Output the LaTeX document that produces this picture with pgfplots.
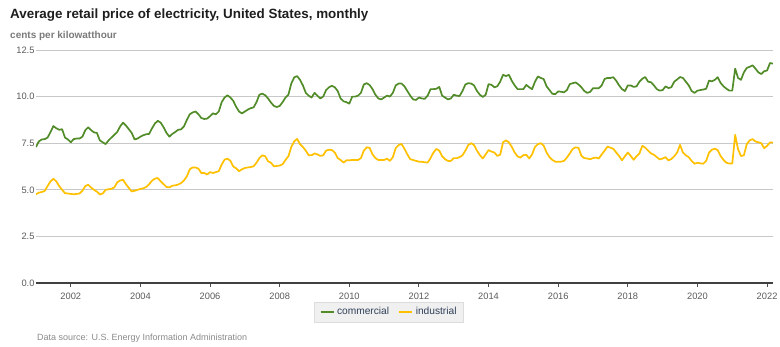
\documentclass[border=0pt]{standalone}
\usepackage{fontspec}
\setmainfont{Liberation Sans}
\usepackage{pgfplots}
\usepackage{pgfplotstable}
\pgfplotsset{compat=1.18}
\definecolor{comm}{HTML}{518C29}
\definecolor{ind}{HTML}{FFC000}
\definecolor{gridc}{HTML}{C8C8C8}
\definecolor{tickc}{HTML}{5A5A5A}
\definecolor{subc}{HTML}{7A7A7A}
\definecolor{srcc}{HTML}{8A8A8A}
\definecolor{legfill}{HTML}{F0F0F0}
\definecolor{legdraw}{HTML}{DCDCDC}
\definecolor{legtext}{HTML}{2F4058}
\definecolor{titlec}{HTML}{1E1E1E}

\pgfplotstableread{
y m c i
2001 1 7.30 4.76
2001 2 7.60 4.85
2001 3 7.70 4.88
2001 4 7.72 4.94
2001 5 7.80 5.20
2001 6 8.10 5.45
2001 7 8.42 5.59
2001 8 8.30 5.45
2001 9 8.22 5.20
2001 10 8.25 5.00
2001 11 7.80 4.82
2001 12 7.70 4.80
2002 1 7.55 4.78
2002 2 7.72 4.76
2002 3 7.75 4.78
2002 4 7.75 4.80
2002 5 7.85 4.95
2002 6 8.20 5.20
2002 7 8.35 5.27
2002 8 8.20 5.12
2002 9 8.08 5.00
2002 10 8.05 4.90
2002 11 7.65 4.75
2002 12 7.55 4.80
2003 1 7.45 5.00
2003 2 7.65 5.03
2003 3 7.80 5.05
2003 4 7.95 5.13
2003 5 8.10 5.40
2003 6 8.40 5.50
2003 7 8.60 5.54
2003 8 8.45 5.30
2003 9 8.25 5.10
2003 10 8.05 4.91
2003 11 7.70 4.95
2003 12 7.75 5.00
2004 1 7.85 5.05
2004 2 7.93 5.08
2004 3 7.98 5.15
2004 4 8.00 5.30
2004 5 8.30 5.49
2004 6 8.56 5.60
2004 7 8.70 5.63
2004 8 8.60 5.45
2004 9 8.35 5.30
2004 10 8.05 5.15
2004 11 7.85 5.13
2004 12 8.00 5.22
2005 1 8.10 5.24
2005 2 8.22 5.28
2005 3 8.24 5.36
2005 4 8.40 5.50
2005 5 8.75 5.72
2005 6 9.05 6.10
2005 7 9.15 6.20
2005 8 9.20 6.20
2005 9 9.05 6.13
2005 10 8.85 5.90
2005 11 8.80 5.90
2005 12 8.82 5.82
2006 1 8.95 5.95
2006 2 9.10 5.90
2006 3 9.05 5.95
2006 4 9.20 6.00
2006 5 9.70 6.35
2006 6 9.95 6.62
2006 7 10.07 6.67
2006 8 9.95 6.56
2006 9 9.77 6.25
2006 10 9.45 6.15
2006 11 9.20 6.00
2006 12 9.10 6.10
2007 1 9.20 6.17
2007 2 9.30 6.20
2007 3 9.38 6.22
2007 4 9.42 6.26
2007 5 9.70 6.45
2007 6 10.10 6.70
2007 7 10.16 6.85
2007 8 10.07 6.80
2007 9 9.90 6.53
2007 10 9.68 6.45
2007 11 9.50 6.26
2007 12 9.44 6.28
2008 1 9.50 6.30
2008 2 9.70 6.37
2008 3 9.95 6.60
2008 4 10.10 6.80
2008 5 10.70 7.30
2008 6 11.03 7.60
2008 7 11.10 7.73
2008 8 10.90 7.45
2008 9 10.60 7.30
2008 10 10.20 7.10
2008 11 10.05 6.85
2008 12 9.95 6.85
2009 1 10.20 6.95
2009 2 10.05 6.90
2009 3 9.90 6.82
2009 4 10.00 6.85
2009 5 10.35 7.10
2009 6 10.50 7.15
2009 7 10.58 7.13
2009 8 10.50 7.00
2009 9 10.30 6.70
2009 10 9.90 6.60
2009 11 9.75 6.46
2009 12 9.70 6.58
2010 1 9.62 6.58
2010 2 10.00 6.60
2010 3 10.00 6.60
2010 4 10.05 6.60
2010 5 10.20 6.70
2010 6 10.65 7.10
2010 7 10.72 7.28
2010 8 10.62 7.25
2010 9 10.40 6.90
2010 10 10.10 6.70
2010 11 9.90 6.60
2010 12 9.85 6.60
2011 1 9.95 6.60
2011 2 10.05 6.67
2011 3 10.00 6.55
2011 4 10.20 6.75
2011 5 10.60 7.24
2011 6 10.70 7.40
2011 7 10.70 7.46
2011 8 10.55 7.20
2011 9 10.30 6.90
2011 10 10.05 6.64
2011 11 9.85 6.60
2011 12 9.82 6.55
2012 1 9.95 6.51
2012 2 9.90 6.50
2012 3 9.88 6.48
2012 4 10.05 6.46
2012 5 10.40 6.70
2012 6 10.40 7.00
2012 7 10.42 7.19
2012 8 10.52 7.10
2012 9 10.05 6.80
2012 10 9.95 6.64
2012 11 9.85 6.55
2012 12 9.90 6.55
2013 1 10.10 6.70
2013 2 10.05 6.70
2013 3 10.03 6.75
2013 4 10.30 6.85
2013 5 10.65 7.10
2013 6 10.72 7.40
2013 7 10.70 7.50
2013 8 10.60 7.40
2013 9 10.30 7.10
2013 10 10.10 6.86
2013 11 9.98 6.68
2013 12 10.10 6.90
2014 1 10.67 7.13
2014 2 10.63 7.05
2014 3 10.50 7.00
2014 4 10.55 6.82
2014 5 10.80 6.88
2014 6 11.17 7.55
2014 7 11.10 7.65
2014 8 11.17 7.55
2014 9 10.85 7.30
2014 10 10.60 7.00
2014 11 10.40 6.79
2014 12 10.40 6.73
2015 1 10.40 6.86
2015 2 10.63 6.88
2015 3 10.50 6.68
2015 4 10.40 6.90
2015 5 10.80 7.30
2015 6 11.08 7.45
2015 7 11.00 7.50
2015 8 10.94 7.37
2015 9 10.55 7.00
2015 10 10.35 6.75
2015 11 10.15 6.60
2015 12 10.13 6.51
2016 1 10.28 6.51
2016 2 10.26 6.51
2016 3 10.23 6.55
2016 4 10.35 6.73
2016 5 10.67 6.95
2016 6 10.72 7.19
2016 7 10.76 7.28
2016 8 10.65 7.25
2016 9 10.50 6.82
2016 10 10.30 6.70
2016 11 10.20 6.68
2016 12 10.25 6.64
2017 1 10.45 6.70
2017 2 10.45 6.73
2017 3 10.45 6.68
2017 4 10.60 6.90
2017 5 10.95 7.10
2017 6 11.00 7.32
2017 7 11.00 7.26
2017 8 11.04 7.20
2017 9 10.85 7.00
2017 10 10.60 6.81
2017 11 10.40 6.58
2017 12 10.30 6.80
2018 1 10.60 7.00
2018 2 10.60 6.81
2018 3 10.52 6.61
2018 4 10.55 6.80
2018 5 10.80 6.95
2018 6 10.96 7.36
2018 7 11.05 7.26
2018 8 10.80 7.10
2018 9 10.77 6.95
2018 10 10.60 6.88
2018 11 10.40 6.75
2018 12 10.32 6.63
2019 1 10.35 6.68
2019 2 10.55 6.75
2019 3 10.46 6.58
2019 4 10.50 6.65
2019 5 10.80 6.80
2019 6 10.92 7.00
2019 7 11.05 7.41
2019 8 11.00 7.00
2019 9 10.80 6.85
2019 10 10.60 6.75
2019 11 10.30 6.55
2019 12 10.20 6.40
2020 1 10.32 6.45
2020 2 10.35 6.42
2020 3 10.38 6.40
2020 4 10.42 6.55
2020 5 10.86 7.00
2020 6 10.82 7.15
2020 7 10.90 7.21
2020 8 11.04 7.12
2020 9 10.73 6.81
2020 10 10.55 6.60
2020 11 10.42 6.45
2020 12 10.32 6.41
2021 1 10.32 6.41
2021 2 11.50 7.95
2021 3 11.00 7.17
2021 4 10.90 6.81
2021 5 11.30 6.85
2021 6 11.54 7.45
2021 7 11.60 7.65
2021 8 11.68 7.72
2021 9 11.50 7.59
2021 10 11.30 7.55
2021 11 11.21 7.50
2021 12 11.36 7.23
2022 1 11.40 7.36
2022 2 11.80 7.54
2022 3 11.77 7.54
}\elec

\begin{document}
\begin{tikzpicture}[x=1pt,y=1pt]
\path[use as bounding box] (-36,-63) rectangle (744,283);
\begin{axis}[
  at={(0,0)}, anchor=south west,
  scale only axis, width=737pt, height=233pt,
  xmin=2001, xmax=2022.17, ymin=0, ymax=12.5,
  xtick={2002,2004,...,2022},
  ytick={0,2.5,5,7.5,10,12.5},
  axis x line*=bottom, axis y line*=left,
  y axis line style={draw=none},
  x axis line style={draw=black!75, line width=1.2pt},
  ytick style={draw=none},
  xtick style={draw=black!70, line width=0.9pt},
  xtick align=outside, major tick length=4pt,
  ymajorgrids, grid style={gridc, line width=1pt},
  /pgf/number format/assume math mode=true,
  tick label style={font=\fontsize{9.3}{11}\selectfont, text=tickc},
  x tick label style={/pgf/number format/1000 sep={}, yshift=-2pt},
  y tick label style={/pgf/number format/fixed, /pgf/number format/fixed zerofill, /pgf/number format/precision=1, xshift=2pt},
  legend style={at={(0.479,-0.1245)}, anchor=center, legend columns=2,
    fill=legfill, draw=legdraw, font=\fontsize{10.2}{12}\selectfont, text=legtext,
    inner xsep=5pt, inner ysep=3.5pt,
    /tikz/every even column/.append style={column sep=7pt}},
  legend image code/.code={\draw[#1, line width=2.6pt] (0pt,0pt) -- (13pt,0pt);},
  line join=round,
]
\addplot[comm, line width=1.7pt, no marks] table[x expr=\thisrow{y}+(\thisrow{m}-1)/12, y=c] {\elec};
\addlegendentry{commercial}
\addplot[ind, line width=1.7pt, no marks] table[x expr=\thisrow{y}+(\thisrow{m}-1)/12, y=i] {\elec};
\addlegendentry{industrial}
\end{axis}
\node[anchor=base west, inner sep=0, text=titlec, font=\fontsize{13.4}{15}\selectfont\bfseries] at (-26,264.5) {Average retail price of electricity, United States, monthly};
\node[anchor=base west, inner sep=0, text=subc, font=\fontsize{10}{12}\selectfont\bfseries] at (-26,244.5) {cents per kilowatthour};
\node[anchor=base west, inner sep=0, text=srcc, font=\fontsize{9}{11}\selectfont] at (1,-57) {Data source: U.S. Energy Information Administration};
\end{tikzpicture}
\end{document}
